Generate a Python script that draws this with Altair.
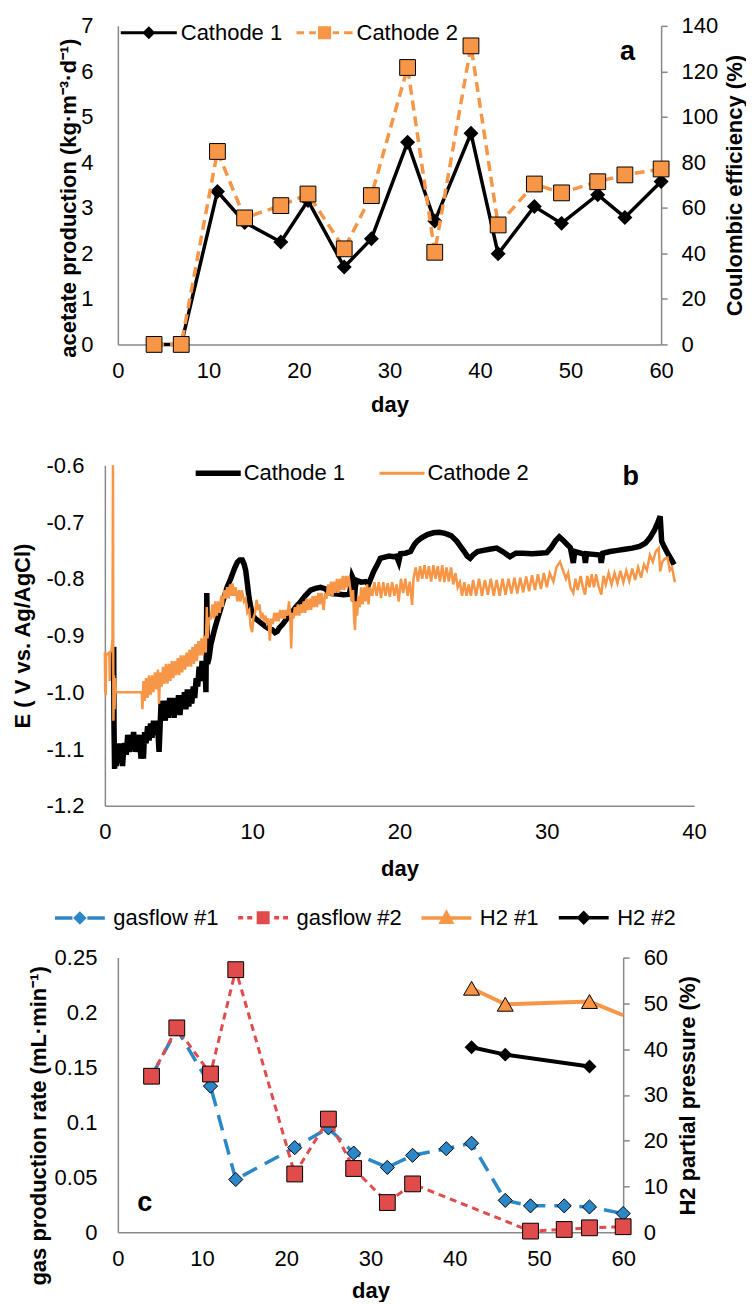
import altair as alt
import pandas as pd

FONT = "Liberation Sans"
GREY = "#898989"
ORANGE = "#F79646"
BLUE = "#2B87C8"
RED = "#E04B4B"

# ---------------- panel a data ----------------
a_days = [4, 7, 11, 14, 18, 21, 25, 28, 32, 35, 39, 42, 46, 49, 53, 56, 60]
a_cathode1 = [0, 0, 3.36, 2.68, 2.25, 3.16, 1.70, 2.32, 4.44, 2.71, 4.64, 1.99, 3.03, 2.66, 3.29, 2.79, 3.58]
a_cathode2 = [0, 0, 84.8, 55.6, 61.0, 66.1, 42.0, 65.4, 121.7, 40.5, 131.2, 52.5, 70.5, 66.6, 71.5, 74.5, 77.1]
a_series = ["Cathode 1", "Cathode 2"]
a_tag = {"day": [56.3], "value": [6.43], "t": ["a"]}

# ---------------- panel b data (day, V) ----------------
b_cathode1 = [
    (0.60, -0.92), (0.62, -1.06), (0.66, -1.135), (0.72, -1.09), (0.78, -1.13), (0.84, -1.10), (0.90, -1.125),
    (0.98, -1.09), (1.05, -1.12), (1.12, -1.095), (1.20, -1.13), (1.28, -1.10), (1.35, -1.09), (1.45, -1.11),
    (1.55, -1.075), (1.65, -1.105), (1.75, -1.08), (1.85, -1.10), (1.95, -1.07), (2.05, -1.105), (2.15, -1.08),
    (2.25, -1.10), (2.35, -1.075), (2.45, -1.117), (2.55, -1.08), (2.62, -1.117), (2.70, -1.07), (2.80, -1.09),
    (2.90, -1.06), (3.00, -1.085), (3.10, -1.055), (3.20, -1.08), (3.30, -1.05), (3.40, -1.075), (3.50, -1.05),
    (3.60, -1.07), (3.68, -1.105), (3.75, -1.06), (3.82, -1.015), (3.90, -1.045), (4.00, -1.02), (4.10, -1.05),
    (4.20, -1.015), (4.30, -1.045), (4.40, -1.01), (4.50, -1.04), (4.60, -1.01), (4.70, -1.045), (4.80, -1.01),
    (4.90, -1.035), (5.00, -1.005), (5.10, -1.04), (5.20, -1.005), (5.30, -1.03), (5.40, -1.00), (5.50, -1.03),
    (5.60, -0.995), (5.70, -1.025), (5.80, -0.995), (5.90, -1.02), (6.00, -0.99), (6.10, -1.01), (6.20, -0.975),
    (6.30, -0.99), (6.40, -0.955), (6.50, -0.98), (6.60, -0.945), (6.70, -0.975), (6.80, -0.95), (6.86, -1.00),
    (6.92, -0.825), (6.97, -0.95), (7.07, -0.94), (7.20, -0.915), (7.41, -0.893), (7.60, -0.875), (7.86, -0.853),
    (8.10, -0.832), (8.30, -0.815), (8.54, -0.80), (8.80, -0.782), (8.99, -0.771), (9.15, -0.767), (9.33, -0.767),
    (9.45, -0.774), (9.56, -0.785), (9.68, -0.81), (9.79, -0.834), (10.00, -0.863), (10.20, -0.87), (10.46, -0.875),
    (10.70, -0.88), (10.90, -0.884), (11.15, -0.888), (11.37, -0.89), (11.55, -0.895), (11.70, -0.893),
    (11.85, -0.886), (12.05, -0.881), (12.30, -0.872), (12.60, -0.863), (12.95, -0.85), (13.30, -0.84),
    (13.60, -0.83), (13.97, -0.82), (14.30, -0.817), (14.65, -0.815), (15.00, -0.818), (15.10, -0.822),
    (15.40, -0.826), (15.80, -0.827), (16.20, -0.828), (16.60, -0.827), (16.72, -0.81), (16.79, -0.796),
    (16.86, -0.80), (16.93, -0.84), (17.00, -0.815), (17.10, -0.803), (17.40, -0.806), (17.70, -0.805),
    (17.90, -0.81), (18.05, -0.80), (18.25, -0.787), (18.50, -0.775), (18.70, -0.764), (19.00, -0.762),
    (19.30, -0.76), (19.60, -0.761), (19.80, -0.76), (19.95, -0.77), (20.07, -0.756), (20.40, -0.755),
    (20.75, -0.752), (21.00, -0.74), (21.20, -0.734), (21.50, -0.728), (21.90, -0.722), (22.30, -0.719),
    (22.70, -0.718), (23.10, -0.72), (23.50, -0.724), (23.90, -0.734), (24.20, -0.745), (24.40, -0.752),
    (24.60, -0.76), (24.80, -0.764), (25.00, -0.758), (25.30, -0.752), (25.70, -0.75), (26.10, -0.748),
    (26.60, -0.746), (27.00, -0.752), (27.50, -0.761), (27.90, -0.755), (28.40, -0.755), (29.00, -0.756),
    (29.50, -0.755), (30.00, -0.754), (30.30, -0.745), (30.60, -0.733), (30.85, -0.726), (31.10, -0.732),
    (31.40, -0.74), (31.60, -0.745), (31.80, -0.772), (31.90, -0.752), (32.30, -0.755), (32.55, -0.757),
    (32.62, -0.772), (32.70, -0.756), (33.20, -0.757), (33.62, -0.758), (33.70, -0.772), (33.80, -0.755),
    (34.30, -0.752), (34.80, -0.75), (35.30, -0.748), (35.80, -0.746), (36.30, -0.743), (36.70, -0.737),
    (37.00, -0.728), (37.30, -0.715), (37.55, -0.70), (37.70, -0.69), (37.80, -0.734), (38.00, -0.745),
    (38.20, -0.755), (38.45, -0.766), (38.65, -0.775),
]
b_cathode2 = [
    (0.00, -0.93), (0.02, -1.00), (0.04, -0.93), (0.06, -1.005), (0.08, -0.935), (0.30, -0.93), (0.33, -0.98),
    (0.36, -0.93), (0.46, -0.925), (0.52, -0.905), (0.55, -0.60), (0.58, -1.05), (0.62, -0.97), (0.66, -1.03),
    (0.70, -0.975), (0.75, -1.00), (1.20, -1.00), (1.80, -1.00), (2.50, -1.00), (2.55, -1.03), (2.62, -0.98),
    (2.70, -1.015), (2.80, -0.975), (2.90, -1.01), (3.00, -0.97), (3.10, -1.005), (3.20, -0.97), (3.30, -1.00),
    (3.40, -0.965), (3.50, -0.995), (3.60, -0.96), (3.68, -1.02), (3.75, -0.965), (3.85, -0.99), (3.95, -0.955),
    (4.05, -0.985), (4.15, -0.95), (4.25, -0.985), (4.35, -0.95), (4.45, -0.98), (4.55, -0.945), (4.65, -0.975),
    (4.75, -0.945), (4.85, -0.97), (4.95, -0.94), (5.05, -0.97), (5.15, -0.935), (5.25, -0.965), (5.35, -0.935),
    (5.45, -0.96), (5.55, -0.93), (5.65, -0.955), (5.75, -0.925), (5.85, -0.955), (5.95, -0.92), (6.05, -0.95),
    (6.15, -0.915), (6.25, -0.945), (6.35, -0.91), (6.45, -0.935), (6.55, -0.905), (6.65, -0.935), (6.75, -0.90),
    (6.85, -0.93), (6.92, -0.85), (6.97, -0.905), (7.07, -0.87), (7.19, -0.87), (7.30, -0.845), (7.40, -0.87),
    (7.50, -0.84), (7.60, -0.865), (7.70, -0.84), (7.80, -0.86), (7.90, -0.83), (8.00, -0.85), (8.10, -0.82),
    (8.20, -0.835), (8.30, -0.815), (8.40, -0.835), (8.50, -0.81), (8.60, -0.83), (8.66, -0.808), (8.77, -0.83),
    (8.88, -0.815), (8.99, -0.84), (9.10, -0.82), (9.20, -0.84), (9.30, -0.82), (9.45, -0.84), (9.56, -0.835),
    (9.67, -0.86), (9.80, -0.855), (9.90, -0.885), (10.00, -0.894), (10.08, -0.87), (10.20, -0.86),
    (10.30, -0.837), (10.40, -0.855), (10.50, -0.845), (10.60, -0.87), (10.69, -0.86), (10.80, -0.875),
    (10.90, -0.865), (11.00, -0.877), (11.10, -0.87), (11.20, -0.909), (11.30, -0.87), (11.40, -0.88),
    (11.50, -0.86), (11.60, -0.875), (11.70, -0.86), (11.80, -0.875), (11.90, -0.855), (12.00, -0.87),
    (12.10, -0.855), (12.20, -0.87), (12.30, -0.855), (12.40, -0.865), (12.50, -0.84), (12.58, -0.86),
    (12.65, -0.923), (12.72, -0.86), (12.80, -0.87), (12.90, -0.85), (13.00, -0.865), (13.10, -0.845),
    (13.20, -0.865), (13.30, -0.845), (13.40, -0.86), (13.50, -0.84), (13.60, -0.86), (13.70, -0.835),
    (13.80, -0.855), (13.90, -0.835), (14.00, -0.855), (14.10, -0.83), (14.20, -0.85), (14.30, -0.83),
    (14.40, -0.85), (14.50, -0.825), (14.60, -0.845), (14.70, -0.825), (14.85, -0.855), (14.95, -0.825),
    (15.05, -0.835), (15.15, -0.81), (15.25, -0.83), (15.35, -0.805), (15.45, -0.83), (15.55, -0.805),
    (15.65, -0.825), (15.75, -0.80), (15.85, -0.825), (15.95, -0.80), (16.05, -0.82), (16.15, -0.795),
    (16.25, -0.82), (16.35, -0.795), (16.45, -0.815), (16.55, -0.795), (16.65, -0.815), (16.75, -0.84),
    (16.85, -0.82), (16.92, -0.87), (16.98, -0.89), (17.05, -0.84), (17.13, -0.865), (17.20, -0.83),
    (17.30, -0.85), (17.40, -0.815), (17.50, -0.845), (17.60, -0.815), (17.70, -0.84), (17.80, -0.81),
    (17.90, -0.845), (18.00, -0.815), (18.15, -0.83), (18.30, -0.806), (18.45, -0.83), (18.60, -0.806),
    (18.75, -0.834), (18.90, -0.806), (19.05, -0.83), (19.20, -0.808), (19.35, -0.832), (19.50, -0.806),
    (19.65, -0.83), (19.80, -0.81), (19.95, -0.84), (20.10, -0.80), (20.25, -0.825), (20.40, -0.80),
    (20.55, -0.83), (20.70, -0.805), (20.86, -0.846), (20.95, -0.80), (21.10, -0.78), (21.25, -0.805),
    (21.40, -0.778), (21.55, -0.80), (21.70, -0.776), (21.85, -0.80), (22.00, -0.778), (22.15, -0.805),
    (22.30, -0.776), (22.45, -0.80), (22.60, -0.778), (22.75, -0.805), (22.90, -0.776), (23.05, -0.806),
    (23.20, -0.78), (23.35, -0.805), (23.50, -0.78), (23.65, -0.81), (23.80, -0.79), (23.95, -0.815),
    (24.10, -0.806), (24.25, -0.83), (24.40, -0.806), (24.55, -0.83), (24.70, -0.81), (24.85, -0.83),
    (25.00, -0.802), (25.20, -0.83), (25.40, -0.80), (25.60, -0.83), (25.80, -0.802), (26.00, -0.828),
    (26.20, -0.80), (26.40, -0.83), (26.60, -0.802), (26.80, -0.83), (27.00, -0.80), (27.20, -0.828),
    (27.40, -0.80), (27.60, -0.826), (27.80, -0.798), (28.00, -0.826), (28.20, -0.798), (28.40, -0.824),
    (28.60, -0.796), (28.80, -0.822), (29.00, -0.794), (29.20, -0.82), (29.40, -0.792), (29.60, -0.818),
    (29.80, -0.79), (30.00, -0.815), (30.20, -0.79), (30.45, -0.805), (30.65, -0.78), (30.90, -0.77),
    (31.10, -0.785), (31.30, -0.80), (31.45, -0.79), (31.60, -0.815), (31.80, -0.825), (31.95, -0.80),
    (32.10, -0.82), (32.30, -0.795), (32.45, -0.815), (32.60, -0.828), (32.75, -0.795), (32.90, -0.815),
    (33.05, -0.792), (33.20, -0.815), (33.35, -0.792), (33.50, -0.812), (33.70, -0.828), (33.85, -0.795),
    (34.00, -0.81), (34.20, -0.79), (34.40, -0.81), (34.60, -0.79), (34.80, -0.808), (35.00, -0.786),
    (35.20, -0.806), (35.40, -0.786), (35.60, -0.804), (35.80, -0.782), (36.00, -0.802), (36.20, -0.78),
    (36.40, -0.798), (36.60, -0.775), (36.80, -0.785), (37.00, -0.758), (37.20, -0.77), (37.40, -0.752),
    (37.60, -0.746), (37.70, -0.787), (37.85, -0.77), (38.00, -0.765), (38.20, -0.763), (38.35, -0.785),
    (38.50, -0.78), (38.70, -0.806),
]
b_series = ["Cathode 1", "Cathode 2"]
b_tag = {"day": [35.7], "v": [-0.62], "t": ["b"]}

# ---------------- panel c data ----------------
c_gas1_days = [4, 7, 11, 14, 21, 25, 28, 32, 35, 39, 42, 46, 49, 53, 56, 60]
c_gas1 = [0.142, 0.185, 0.133, 0.048, 0.077, 0.095, 0.072, 0.059, 0.070, 0.076, 0.081, 0.029, 0.024, 0.024, 0.023, 0.017]
c_gas2_days = [4, 7, 11, 14, 21, 25, 28, 32, 35, 49, 53, 56, 60]
c_gas2 = [0.142, 0.186, 0.144, 0.239, 0.053, 0.103, 0.058, 0.027, 0.044, 0.001, 0.0025, 0.004, 0.005]
c_h2a_days = [42, 46, 56, 60]
c_h2a = [53.3, 49.8, 50.4, 47.4]
c_h2b_days = [42, 46, 56]
c_h2b = [40.4, 38.8, 36.2]
c_series = ["gasflow #1", "gasflow #2", "H2 #1", "H2 #2"]
c_tag = {"day": [3.2], "value": [0.027], "t": ["c"]}

# ---------------- helpers ----------------
def ax(**kw):
    base = dict(grid=False, domainColor=GREY, domainWidth=1.5, ticks=False,
                labelFont=FONT, labelFontSize=22, labelColor="black",
                labelFlush=False, labelOverlap=False,
                titleFont=FONT, titleFontSize=22, titleFontWeight="bold",
                titleColor="black", titleAlign="center", titleBaseline="middle")
    base.update(kw)
    return alt.Axis(**base)

RIGHT_TICKS = dict(ticks=True, tickColor=GREY, tickWidth=1.5, tickSize=6)

def legend(**kw):
    base = dict(title=None, orient="none", direction="horizontal", padding=0,
                labelFont=FONT, labelFontSize=22, labelColor="black", symbolOpacity=1)
    base.update(kw)
    return alt.Legend(**base)

def tag(df, x, y):
    return alt.Chart(pd.DataFrame(df)).mark_text(
        font=FONT, fontSize=27, fontWeight="bold", color="black", baseline="middle", align="center"
    ).encode(x=x, y=y, text="t:N")

# ---------------- panel a ----------------
dfa1 = pd.DataFrame({"day": a_days, "value": a_cathode1})
dfa2 = pd.DataFrame({"day": a_days, "value": a_cathode2})

xa = alt.X("day:Q", scale=alt.Scale(domain=[0, 60]),
           axis=ax(values=list(range(0, 61, 10)), labelPadding=16, title=["day", ""],
                   titleX=272, titleY=50, titleBaseline="top", titleLineHeight=14))
ya_l = alt.Y("value:Q", scale=alt.Scale(domain=[0, 7]),
             axis=ax(values=list(range(0, 8)), labelPadding=25,
                     title="acetate production (kg·m⁻³·d⁻¹)", titleAngle=270, titleX=-49, titleY=172))
ya_r = alt.Y("value:Q", scale=alt.Scale(domain=[0, 140]),
             axis=ax(orient="right", values=list(range(0, 141, 20)), labelPadding=14,
                     title="Coulombic efficiency (%)", titleAngle=270, titleX=73, titleY=159.5, **RIGHT_TICKS))

# legend symbols: unit = 11 px
PA1 = "M-2.55,0H2.55M0,-0.4L0.4,0L0,0.4L-0.4,0Z"
PA2 = ("M-2.55,0H-1.86M-1.4,0H-0.79M0.74,0H1.32M1.78,0H2.55"
       "M-0.46,-0.46H0.46V0.46H-0.46Z")
leg_a = legend(legendX=18.5, legendY=-5.8, symbolSize=484, symbolStrokeWidth=3,
               labelOffset=19.5, columnPadding=7)

a_left = alt.layer(
    alt.Chart(dfa1).mark_line(color="black", strokeWidth=3.5).encode(x=xa, y=ya_l),
    alt.Chart(dfa1).mark_point(shape="diamond", filled=True, color="black", size=225, opacity=1).encode(x=xa, y=ya_l),
    tag(a_tag, xa, ya_l),
)
a_right = alt.layer(
    alt.Chart(dfa2).mark_line(color=ORANGE, strokeWidth=3.5, strokeDash=[10, 6]).encode(x=xa, y=ya_r),
    alt.Chart(dfa2).mark_point(shape="square", filled=True, fill=ORANGE, stroke="black", strokeWidth=1,
                               size=250, opacity=1).encode(x=xa, y=ya_r),
)
a_leg_layer = alt.Chart(pd.DataFrame({"series": a_series})).transform_filter("false").mark_point(
    filled=True, opacity=1, strokeWidth=3).encode(
    fill=alt.Fill("series:N", scale=alt.Scale(domain=a_series, range=["black", ORANGE]), legend=leg_a),
    stroke=alt.Stroke("series:N", scale=alt.Scale(domain=a_series, range=["black", ORANGE]), legend=leg_a),
    shape=alt.Shape("series:N", scale=alt.Scale(domain=a_series, range=[PA1, PA2]), legend=leg_a),
)
panel_a = alt.layer(a_left, a_right, a_leg_layer).resolve_scale(y="independent").properties(width=544, height=319)

# ---------------- panel b ----------------
dfb1 = pd.DataFrame(b_cathode1, columns=["day", "v"])
dfb2 = pd.DataFrame(b_cathode2, columns=["day", "v"])

xb = alt.X("day:Q", scale=alt.Scale(domain=[0, 40], range=[-13, 577]),
           axis=ax(values=[0, 10, 20, 30, 40], labelPadding=16, title="day", titleX=282, titleY=63))
yb = alt.Y("v:Q", scale=alt.Scale(domain=[-1.2, -0.6]),
           axis=ax(values=[-1.2, -1.1, -1.0, -0.9, -0.8, -0.7, -0.6],
                   labelExpr="replace(format(datum.value, '.1f'), '\u2212', '-')",
                   labelPadding=21, offset=13, title="E ( V vs. Ag/AgCl)",
                   titleAngle=270, titleX=-82, titleY=170.5))

PB1 = "M-2.05,-0.25H2.05V0.25H-2.05Z"
PB2 = "M-2.05,-0.14H2.05V0.14H-2.05Z"
leg_b = legend(legendX=89.5, legendY=-3, symbolSize=484, symbolStrokeWidth=0,
               labelOffset=14.5, columnPadding=33)
b_leg_layer = alt.Chart(pd.DataFrame({"series": b_series})).transform_filter("false").mark_point(
    filled=True, opacity=1, strokeWidth=0).encode(
    fill=alt.Fill("series:N", scale=alt.Scale(domain=b_series, range=["black", ORANGE]), legend=leg_b),
    shape=alt.Shape("series:N", scale=alt.Scale(domain=b_series, range=[PB1, PB2]), legend=leg_b),
)
panel_b = alt.layer(
    alt.Chart(dfb1).mark_line(color="black", strokeWidth=5.5).encode(x=xb, y=yb),
    alt.Chart(dfb2).mark_line(color=ORANGE, strokeWidth=2.5).encode(x=xb, y=yb),
    tag(b_tag, xb, yb),
    b_leg_layer,
).properties(width=577, height=341)

# ---------------- panel c ----------------
dfc1 = pd.DataFrame({"day": c_gas1_days, "value": c_gas1})
dfc2 = pd.DataFrame({"day": c_gas2_days, "value": c_gas2})
dfc3 = pd.DataFrame({"day": c_h2a_days, "value": c_h2a})
dfc4 = pd.DataFrame({"day": c_h2b_days, "value": c_h2b})

xc = alt.X("day:Q", scale=alt.Scale(domain=[0, 60]),
           axis=ax(values=list(range(0, 61, 10)), labelPadding=16, title="day", titleX=253, titleY=58))
yc_l = alt.Y("value:Q", scale=alt.Scale(domain=[0, 0.25]),
             axis=ax(values=[0, 0.05, 0.1, 0.15, 0.2, 0.25], format="~g", labelPadding=21,
                     title="gas production rate (mL·min⁻¹)", titleAngle=270, titleX=-79, titleY=168))
yc_r = alt.Y("value:Q", scale=alt.Scale(domain=[0, 60]),
             axis=ax(orient="right", values=list(range(0, 61, 10)), labelPadding=14,
                     title="H2 partial pressure (%)", titleAngle=270, titleX=64, titleY=138, **RIGHT_TICKS))

# legend symbols: unit = 11 px
PC1 = "M-2.27,0H-0.68M0.68,0H2.27M0,-0.39L0.39,0L0,0.39L-0.39,0Z"
PC2 = ("M-2.27,0H-1.82M-1.45,0H-1.0M1.0,0H1.45M1.82,0H2.27"
       "M-0.43,-0.43H0.43V0.43H-0.43Z")
PC3 = "M-2.27,0H2.27M0,-0.46L0.46,0.39H-0.46Z"
PC4 = "M-2.27,0H2.27M0,-0.43L0.43,0L0,0.43L-0.43,0Z"
c_colors = [BLUE, RED, ORANGE, "black"]
leg_c = legend(legendX=-51, legendY=-53, symbolSize=484, symbolStrokeWidth=3.5,
               labelOffset=20.5, columnPadding=12.5)

c_left = alt.layer(
    alt.Chart(dfc1).mark_line(color=BLUE, strokeWidth=3.5, strokeDash=[16, 9]).encode(x=xc, y=yc_l),
    alt.Chart(dfc1).mark_point(shape="diamond", filled=True, fill=BLUE, stroke="black", strokeWidth=1,
                               size=200, opacity=1).encode(x=xc, y=yc_l),
    alt.Chart(dfc2).mark_line(color=RED, strokeWidth=3, strokeDash=[7, 5]).encode(x=xc, y=yc_l),
    alt.Chart(dfc2).mark_point(shape="square", filled=True, fill=RED, stroke="black", strokeWidth=1,
                               size=250, opacity=1).encode(x=xc, y=yc_l),
    tag(c_tag, xc, yc_l),
)
c_right = alt.layer(
    alt.Chart(dfc3).mark_line(color=ORANGE, strokeWidth=4).encode(x=xc, y=yc_r),
    alt.Chart(dfc3).transform_filter("datum.day < 60").mark_point(
        shape="triangle-up", filled=True, fill=ORANGE, stroke="black", strokeWidth=1,
        size=256, opacity=1).encode(x=xc, y=yc_r),
    alt.Chart(dfc4).mark_line(color="black", strokeWidth=4).encode(x=xc, y=yc_r),
    alt.Chart(dfc4).mark_point(shape="diamond", filled=True, color="black", size=196, opacity=1).encode(x=xc, y=yc_r),
)
c_leg_layer = alt.Chart(pd.DataFrame({"series": c_series})).transform_filter("false").mark_point(
    filled=True, opacity=1, strokeWidth=3.5).encode(
    fill=alt.Fill("series:N", scale=alt.Scale(domain=c_series, range=c_colors), legend=leg_c),
    stroke=alt.Stroke("series:N", scale=alt.Scale(domain=c_series, range=c_colors), legend=leg_c),
    shape=alt.Shape("series:N", scale=alt.Scale(domain=c_series, range=[PC1, PC2, PC3, PC4]), legend=leg_c),
)
panel_c = alt.layer(c_left, c_right, c_leg_layer).resolve_scale(y="independent").properties(width=506, height=275)

chart = alt.vconcat(panel_a, panel_b, panel_c, spacing=25).resolve_scale(
    fill="independent", stroke="independent", shape="independent"
).properties(
    padding={"left": 4, "top": 6, "right": 1, "bottom": 0}
).configure_view(stroke=None)

chart.save("out.html", embed_options={"renderer": "svg", "actions": False})
